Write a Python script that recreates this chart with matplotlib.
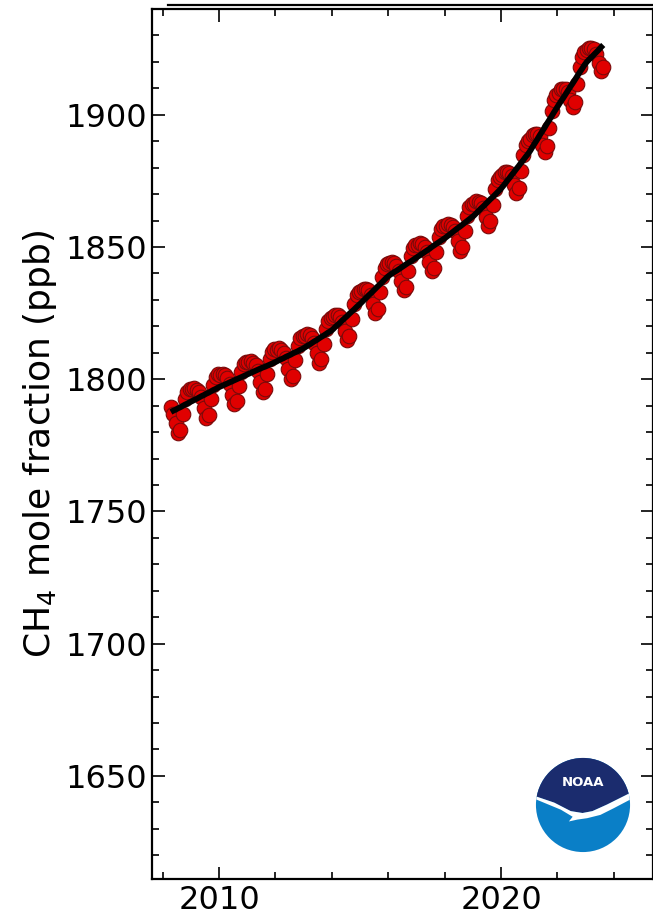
import numpy as np
import matplotlib
matplotlib.use("Agg")
import matplotlib.pyplot as plt
from matplotlib.patches import Circle, Polygon
from matplotlib.lines import Line2D
from matplotlib.ticker import MultipleLocator, FixedLocator

# Monthly mean CH4 (ppb), April 2008 through August 2023
first_year, first_month = 2008, 4

ch4_monthly = [
    # 2008 Apr-Dec
    1789.6, 1787.0, 1783.5, 1779.8, 1780.9, 1786.9, 1792.4, 1795.3, 1796.3,
    # 2009
    1796.2, 1796.7, 1796.1, 1795.1, 1793.1, 1789.0, 1785.4, 1786.5, 1792.4, 1797.9, 1800.8, 1801.8,
    # 2010
    1801.7, 1802.1, 1801.5, 1800.4, 1798.3, 1794.2, 1790.5, 1791.6, 1797.4, 1802.8, 1805.7, 1806.6,
    # 2011
    1806.5, 1806.9, 1806.3, 1805.2, 1803.1, 1799.0, 1795.3, 1796.3, 1802.1, 1807.5, 1810.4, 1811.3,
    # 2012
    1811.2, 1811.7, 1811.1, 1810.0, 1808.0, 1803.9, 1800.2, 1801.4, 1807.2, 1812.6, 1815.6, 1816.5,
    # 2013
    1816.5, 1817.1, 1816.6, 1815.7, 1813.8, 1809.8, 1806.3, 1807.6, 1813.5, 1819.1, 1822.2, 1823.2,
    # 2014
    1823.4, 1824.3, 1824.1, 1823.4, 1821.8, 1818.1, 1814.8, 1816.4, 1822.6, 1828.4, 1831.8, 1833.1,
    # 2015
    1833.4, 1834.3, 1834.2, 1833.6, 1831.9, 1828.3, 1825.1, 1826.7, 1832.9, 1838.8, 1842.2, 1843.6,
    # 2016
    1843.8, 1844.4, 1844.0, 1843.0, 1841.1, 1837.2, 1833.7, 1835.0, 1841.0, 1846.5, 1849.6, 1850.7,
    # 2017
    1850.8, 1851.4, 1851.0, 1850.1, 1848.2, 1844.3, 1840.9, 1842.2, 1848.2, 1853.8, 1856.9, 1858.0,
    # 2018
    1858.1, 1858.8, 1858.5, 1857.7, 1855.9, 1852.1, 1848.6, 1850.0, 1856.1, 1861.8, 1865.0, 1866.2,
    # 2019
    1866.4, 1867.3, 1867.2, 1866.6, 1864.9, 1861.3, 1858.1, 1859.7, 1865.9, 1871.8, 1875.2, 1876.6,
    # 2020
    1877.1, 1878.2, 1878.4, 1878.0, 1876.7, 1873.3, 1870.4, 1872.2, 1878.8, 1884.9, 1888.6, 1890.2,
    # 2021
    1891.0, 1892.5, 1892.9, 1892.8, 1891.8, 1888.7, 1886.0, 1888.2, 1895.0, 1901.4, 1905.4, 1907.3,
    # 2022
    1908.2, 1909.6, 1909.9, 1909.8, 1908.7, 1905.6, 1902.8, 1904.9, 1911.7, 1918.1, 1921.9, 1923.8,
    # 2023 Jan-Aug
    1924.5, 1925.4, 1925.3, 1924.7, 1923.1, 1919.5, 1916.4, 1918.0,
]

# Deseasonalized trend (ppb), same months
ch4_trend = [
    1787.6, 1788.1, 1788.5, 1789.0, 1789.4, 1789.9, 1790.4, 1790.8, 1791.3,
    1791.7, 1792.2, 1792.6, 1793.1, 1793.6, 1794.0, 1794.5, 1794.9, 1795.4, 1795.9, 1796.3, 1796.8,
    1797.2, 1797.6, 1798.0, 1798.4, 1798.8, 1799.2, 1799.6, 1800.0, 1800.4, 1800.8, 1801.2, 1801.6,
    1802.0, 1802.4, 1802.8, 1803.2, 1803.6, 1804.0, 1804.4, 1804.7, 1805.1, 1805.5, 1805.9, 1806.3,
    1806.7, 1807.2, 1807.6, 1808.0, 1808.5, 1808.9, 1809.3, 1809.8, 1810.2, 1810.6, 1811.1, 1811.5,
    1812.0, 1812.6, 1813.1, 1813.7, 1814.3, 1814.8, 1815.4, 1816.0, 1816.5, 1817.1, 1817.7, 1818.2,
    1818.9, 1819.8, 1820.6, 1821.4, 1822.3, 1823.1, 1823.9, 1824.8, 1825.6, 1826.4, 1827.3, 1828.1,
    1828.9, 1829.8, 1830.7, 1831.6, 1832.4, 1833.3, 1834.2, 1835.1, 1835.9, 1836.8, 1837.7, 1838.6,
    1839.3, 1839.9, 1840.5, 1841.0, 1841.6, 1842.2, 1842.8, 1843.4, 1844.0, 1844.5, 1845.1, 1845.7,
    1846.3, 1846.9, 1847.5, 1848.1, 1848.7, 1849.3, 1850.0, 1850.6, 1851.2, 1851.8, 1852.4, 1853.0,
    1853.6, 1854.3, 1855.0, 1855.7, 1856.4, 1857.1, 1857.7, 1858.4, 1859.1, 1859.8, 1860.5, 1861.2,
    1861.9, 1862.8, 1863.7, 1864.6, 1865.4, 1866.3, 1867.2, 1868.1, 1868.9, 1869.8, 1870.7, 1871.6,
    1872.6, 1873.7, 1874.9, 1876.0, 1877.2, 1878.3, 1879.5, 1880.6, 1881.8, 1882.9, 1884.1, 1885.2,
    1886.5, 1888.0, 1889.4, 1890.8, 1892.3, 1893.7, 1895.1, 1896.6, 1898.0, 1899.4, 1900.9, 1902.3,
    1903.7, 1905.1, 1906.4, 1907.8, 1909.2, 1910.6, 1911.9, 1913.3, 1914.7, 1916.1, 1917.4, 1918.8,
    1920.0, 1920.9, 1921.8, 1922.7, 1923.6, 1924.5, 1925.5, 1926.4,
]

x_tick_labels = ["2010", "2020"]
y_tick_values = [1650, 1700, 1750, 1800, 1850, 1900]

# Decimal year at mid-month for each sample
month_index = np.arange(len(ch4_monthly)) + (first_month - 1)
dec_year = first_year + (month_index + 0.5) / 12.0

W, H = 653, 916
fig = plt.figure(figsize=(W / 100, H / 100), dpi=100)
fig.patch.set_facecolor("white")

left_px, right_px, top_px, bottom_px = 152, 653, 9, 879
ax = fig.add_axes([left_px / W, 1 - bottom_px / H,
                   (right_px - left_px) / W, (bottom_px - top_px) / H])

ax.plot(dec_year, ch4_monthly, linestyle="none", marker="o", markersize=10.5,
        markerfacecolor="#e00000", markeredgecolor="#7a0a0a",
        markeredgewidth=0.8, zorder=2)
ax.plot(dec_year, ch4_trend, color="black", linewidth=4.2,
        solid_capstyle="butt", zorder=3)

ax.set_xlim(2007.62, 2025.39)
ax.set_ylim(1611, 1940)

ax.xaxis.set_major_locator(FixedLocator([2010, 2020]))
ax.set_xticklabels(x_tick_labels)
ax.xaxis.set_minor_locator(MultipleLocator(2))
ax.yaxis.set_major_locator(FixedLocator(y_tick_values))
ax.yaxis.set_minor_locator(MultipleLocator(10))

ax.tick_params(which="both", direction="in", top=True, right=True,
               width=1.2, labelsize=23, colors="black")
ax.tick_params(which="major", length=9)
ax.tick_params(which="minor", length=5)
ax.tick_params(axis="y", which="major", pad=3.5)
ax.tick_params(axis="x", which="major", pad=4)
for sp in ax.spines.values():
    sp.set_linewidth(1.6)

ax.set_ylabel("CH$_4$ mole fraction (ppb)", fontsize=26)
ax.yaxis.set_label_coords((59 - left_px) / (right_px - left_px), 0.5)

# Second frame line just above the top spine
fig.add_artist(Line2D([168 / W, 1.0], [1 - 5 / H, 1 - 5 / H],
                      color="black", linewidth=1.6))

# NOAA emblem in the lower-right corner
logo = fig.add_axes([535 / W, 1 - 853 / H, 96 / W, 96 / H])
logo.set_xlim(-1.02, 1.02)
logo.set_ylim(-1.02, 1.02)
logo.set_aspect("equal")
logo.axis("off")
disk = Circle((0, 0), 1.0, facecolor="#0a7fc7", edgecolor="none")
logo.add_patch(disk)
upper = [(-1.05, 0.2), (-0.61, 0.05), (-0.26, -0.13), (-0.01, -0.17),
         (0.2, -0.13), (0.51, 0.01), (0.79, 0.15), (1.05, 0.28)]
lower = [(1.05, 0.14), (0.65, -0.07), (0.37, -0.21), (0.09, -0.28),
         (-0.12, -0.31), (-0.30, -0.35), (-0.22, -0.25), (-0.47, -0.10),
         (-1.05, 0.14)]
dark = Polygon(upper + [(1.05, 1.1), (-1.05, 1.1)], closed=True,
               facecolor="#1b2c6e", edgecolor="none")
logo.add_patch(dark)
dark.set_clip_path(disk)
bird = Polygon(upper + lower, closed=True, facecolor="white", edgecolor="none")
logo.add_patch(bird)
bird.set_clip_path(disk)
logo.text(0, 0.47, "NOAA", color="white", fontsize=9.5, fontweight="bold",
          ha="center", va="center")

fig.savefig("out.png", dpi=100, facecolor="white")
